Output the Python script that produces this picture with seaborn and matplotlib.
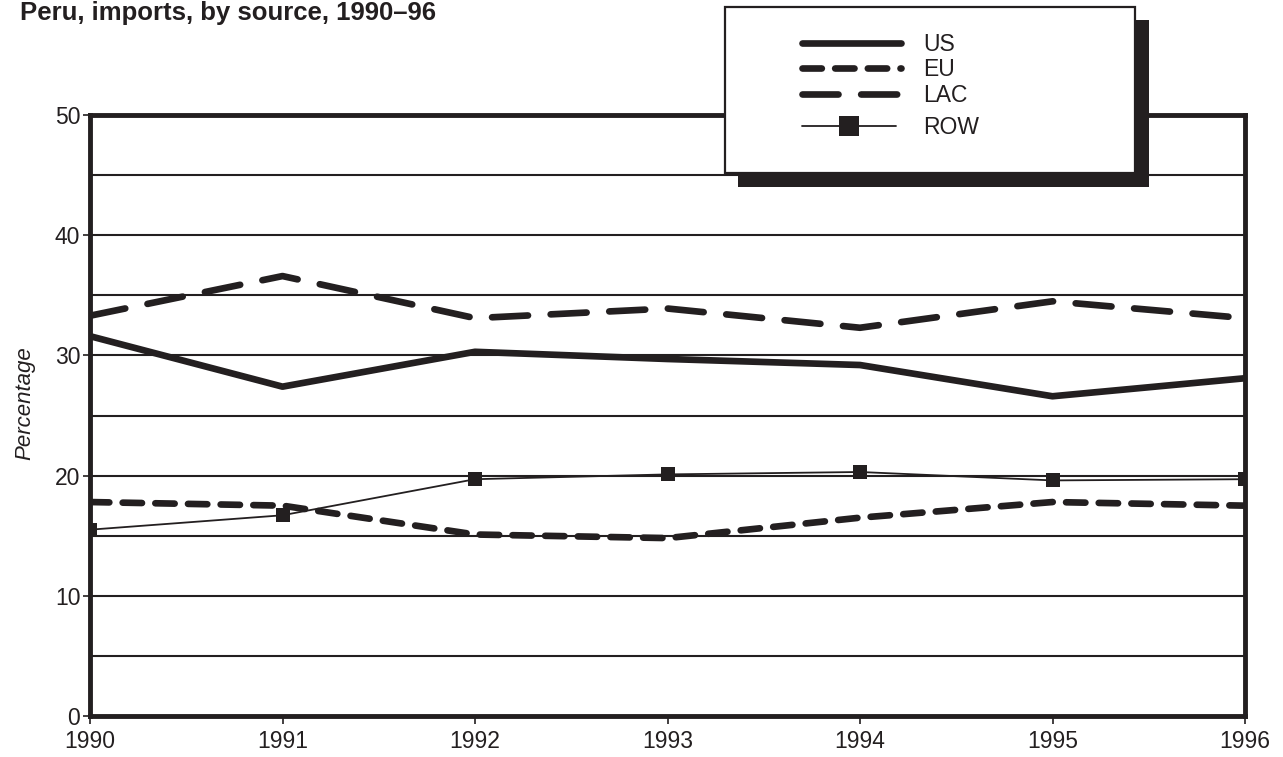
import matplotlib
matplotlib.use("Agg")
import matplotlib.pyplot as plt
import seaborn as sns
import pandas as pd
from matplotlib.patches import Rectangle
from matplotlib.ticker import MultipleLocator

years = [1990, 1991, 1992, 1993, 1994, 1995, 1996]
us = [31.6, 27.4, 30.3, 29.7, 29.2, 26.6, 28.1]
eu = [17.8, 17.5, 15.1, 14.8, 16.5, 17.8, 17.5]
lac = [33.3, 36.6, 33.1, 33.9, 32.3, 34.5, 33.1]
row = [15.5, 16.7, 19.7, 20.1, 20.3, 19.6, 19.7]
series_names = ["US", "EU", "LAC", "ROW"]
title = "Peru, imports, by source, 1990\u201396"

sns.set_style("white")
plt.rcParams['font.family'] = ['Liberation Sans', 'DejaVu Sans']

INK = "#231f20"
W, H = 1283, 757
fig = plt.figure(figsize=(W / 100, H / 100), dpi=100)
ax = fig.add_axes([90 / W, 1 - 716 / H, (1245 - 90) / W, (716 - 115) / H])

df = pd.DataFrame({"year": years, "US": us, "EU": eu, "LAC": lac, "ROW": row})

thick = 4.8
sns.lineplot(data=df, x="year", y="US", ax=ax, color=INK, lw=thick,
             solid_capstyle="round", solid_joinstyle="round", label=series_names[0], zorder=4)
sns.lineplot(data=df, x="year", y="EU", ax=ax, color=INK, lw=thick,
             dash_capstyle="round", label=series_names[1], zorder=4)
ax.lines[-1].set_dashes((2.9, 2.0))
sns.lineplot(data=df, x="year", y="LAC", ax=ax, color=INK, lw=thick,
             dash_capstyle="round", label=series_names[2], zorder=4)
ax.lines[-1].set_dashes((5.4, 3.4))
sns.lineplot(data=df, x="year", y="ROW", ax=ax, color=INK, lw=1.3,
             marker="s", markersize=9.5, markeredgewidth=0, label=series_names[3], zorder=4)

handles, labels = ax.get_legend_handles_labels()
ax.get_legend().remove()

ax.set_xlim(1990, 1996)
ax.set_ylim(0, 50)
ax.set_xticks(years)
ax.set_xticklabels([str(y) for y in years])
ax.yaxis.set_major_locator(MultipleLocator(10))
ax.yaxis.set_minor_locator(MultipleLocator(5))
ax.grid(which="both", axis="y", color=INK, lw=1.5, zorder=1)
ax.grid(False, axis="x")
ax.set_axisbelow(True)
ax.tick_params(axis="y", which="major", direction="out", length=5, width=1.2,
               color=INK, labelsize=16.5, pad=2, left=True, labelcolor=INK)
ax.tick_params(axis="y", which="minor", length=0)
ax.tick_params(axis="x", direction="out", length=6, width=1.2, color=INK,
               labelsize=16.5, pad=4, bottom=True, labelcolor=INK)
for s in ax.spines.values():
    s.set_linewidth(3.5)
    s.set_color(INK)
    s.set_zorder(5)
ax.set_xlabel("")
ax.set_ylabel("Percentage", style="italic", fontsize=16, color=INK)
ax.yaxis.set_label_coords(-0.047, 0.52)

fig.text(20 / W, 1 - 1 / H, title, fontsize=18.5, fontweight="bold",
         color=INK, ha="left", va="top")

# legend box with shadow
def fig_rect(x0, y0, x1, y1, **kw):
    r = Rectangle((x0 / W, 1 - y1 / H), (x1 - x0) / W, (y1 - y0) / H,
                  transform=fig.transFigure, **kw)
    fig.add_artist(r)
    return r

fig_rect(738, 20, 1149, 187, facecolor=INK, edgecolor="none", zorder=10)
fig_rect(725, 7, 1135, 173, facecolor="white", edgecolor=INK, lw=1.6, zorder=11)

leg1 = fig.legend(handles[:3], labels[:3], loc="upper left",
                  bbox_to_anchor=(802 / W, 1 - 33 / H), frameon=False,
                  fontsize=16.5, handlelength=4.3, handletextpad=1.0,
                  labelspacing=0.1, borderpad=0, borderaxespad=0, labelcolor=INK)
leg1.set_zorder(12)
leg2 = fig.legend(handles[3:], labels[3:], loc="upper left",
                  bbox_to_anchor=(802 / W, 1 - 116 / H), frameon=False,
                  fontsize=16.5, handlelength=4.1, handletextpad=1.2,
                  borderpad=0, borderaxespad=0, labelcolor=INK, markerscale=1.45)
leg2.set_zorder(12)

fig.savefig("out.png", dpi=100)
